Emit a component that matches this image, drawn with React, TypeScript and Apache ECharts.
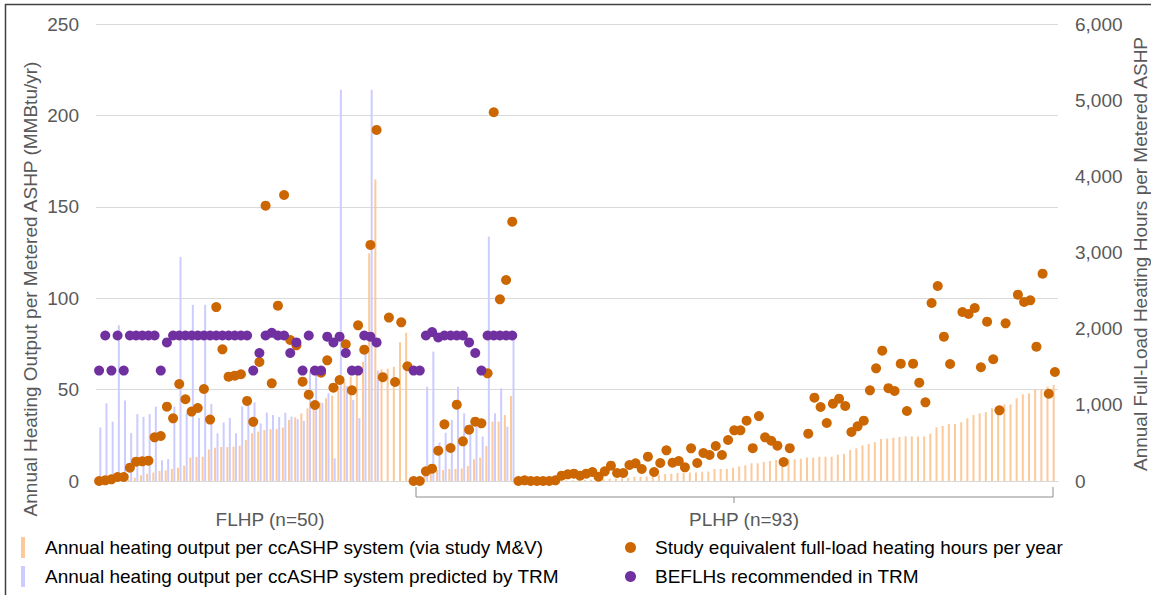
import React, { useEffect, useRef } from "react";
import * as echarts from "echarts";

// ---- Data ----
// FLHP group: 51 systems, PLHP group: 105 systems (x order as in the reference)
const FLHP_COUNT = 51;
const PLHP_COUNT = 105;

// Annual heating output per ccASHP system via study M&V (MMBtu/yr) — left axis
const mvFLHP = [
  0, 0, 0, 0.3, 0.5, 0.9, 1.8, 3.1, 4.0, 4.6, 5.5, 5.8, 6.6, 7.3, 8.4, 12.8, 13.1, 13.3, 17.2, 18.2,
  18.6, 18.6, 18.8, 19.3, 22.4, 26.1, 27.0, 27.9, 28.4, 28.4, 29.2, 33.4, 34.8, 37.0, 39.8, 41.6, 42.9,
  45.2, 46.7, 52.0, 54.3, 57.1, 58.9, 65.3, 124.5, 165.0, 61.1, 61.5, 62.5, 75.9, 81.1,
];
const mvPLHP = [
  0, 0, 4.0, 5.0, 6.0, 6.0, 6.6, 6.6, 6.9, 8.2, 11.9, 12.8, 19.1, 32.5, 32.5, 36.1, 46.5,
  0, 0, 0, 0, 0, 0.1, 0.2, 0.3, 0.3, 0.4, 0.5, 0.6, 0.7, 0.8, 0.9, 1.2, 1.3, 1.5, 1.8, 2.4, 2.4, 2.5,
  3.1, 3.1, 3.8, 4.0, 4.4, 4.4, 4.6, 4.6, 5.0, 5.2, 6.6, 6.6, 6.6, 7.3, 8.0, 8.6, 9.7, 9.7, 10.4, 10.9,
  11.5, 11.9, 11.9, 11.9, 12.2, 12.8, 12.8, 13.3, 13.3, 13.3, 14.4, 14.8, 17.0, 17.9, 19.5, 20.2, 21.2,
  23.0, 23.2, 23.7, 24.1, 24.4, 24.4, 24.4, 24.4, 25.9, 29.4, 30.1, 31.2, 31.2, 32.1, 34.3, 36.1, 37.0,
  37.7, 39.8, 40.7, 41.9, 41.9, 45.2, 47.4, 48.0, 50.1, 50.1, 51.6, 52.5,
];

// Annual heating output per ccASHP system predicted by TRM (MMBtu/yr) — left axis
const trmFLHP = [
  29.3, 42.5, 32.5, 85.2, 44.0, 26.2, 36.6, 35.1, 36.6, 40.7, 11.3, 12.0, 40.7, 122.6, 37.2, 96.4, 34.5,
  96.4, 42.2, 26.1, 32.0, 34.5, 26.1, 40.7, 45.0, 43.0, 31.5, 37.4, 36.1, 35.0, 37.4, 35.2, 33.8, 32.9,
  60.0, 61.0, 42.7, 48.0, 12.4, 214.0, 52.0, 44.3, 34.4, 70.3, 214.0, 60.4, null, null, null, null, null,
];
const trmPLHP = [
  null, null, 51.6, 70.8, 21.0, 26.4, 33.4, 51.6, 37.0, 31.2, 29.7, 24.3, 133.7, 37.0, 50.7, 29.7, 79.0,
];

// Study equivalent full-load heating hours per year — right axis
const flhFLHP = [
  0, 9, 22, 53, 53, 175, 254, 258, 267, 573, 591, 976, 823, 1274, 1073, 911, 959, 1208, 806, 2283,
  1729, 1370, 1383, 1401, 1051, 777, 1562, 3615, 1282, 2302, 3755, 1851, 1781, 1304, 1133, 998, 1422,
  1584, 1225, 1326, 1795, 1190, 2044, 1724, 3100, 4609, 1363, 2145, 1300, 2083, 1506,
];
const flhPLHP = [
  0, 0, 127, 162, 398, 744, 433, 1002, 521, 674, 779, 757, 1414, 4841, 2385, 2639, 3405,
  0, 9, 0, 0, 0, 0, 9, 70, 88, 96, 70, 96, 118, 57, 127, 201, 105, 105, 210, 232, 158, 320, 118, 236,
  403, 241, 263, 179, 429, 236, 368, 341, 460, 341, 538, 665, 665, 792, 431, 852, 573, 528, 464, 249,
  431, null, null, 621, 1094, 972, 762, 1015, 1081, 985, 643, 718, 792, 1190, 1479, 1711, 1219, 1182,
  1541, 919, 1541, 1291, 1033, 2337, 2560, 1895, 1536, null, 2219, 2193, 2271, 1493, 2092, 1598, 928,
  2070, null, 2446, 2350, 2372, 1764, 2722, 1146, 1431,
];

// BEFLHs recommended in TRM — right axis
const befFLHP = [
  1450, 1910, 1450, 1910, 1450, 1910, 1910, 1910, 1910, 1910, 1450, 1820, 1910, 1910, 1910, 1910, 1910,
  1910, 1910, 1910, 1910, 1910, 1910, 1910, 1910, 1450, 1680, 1910, 1945, 1910, 1910, 1680, 1820, 1450,
  1910, 1450, 1450, 1895, 1820, 1895, 1680, 1450, 1450, 1910, 1895, 1820, null, null, null, null, null,
];
const befPLHP = [
  1450, 1450, 1910, 1955, 1885, 1910, 1910, 1910, 1910, 1820, 1680, 1450, 1910, 1910, 1910, 1910, 1910,
];

const leftTicks = { min: 0, max: 250, interval: 50 };
const rightTicks = { min: 0, max: 6000, interval: 1000 };

const groupLabels = ["FLHP (n=50)", "PLHP (n=93)"];
const seriesNames = [
  "Annual heating output per ccASHP system (via study M&V)",
  "Annual heating output per ccASHP system predicted by TRM",
  "Study equivalent full-load heating hours per year",
  "BEFLHs recommended in TRM",
];
const leftTitle = "Annual Heating Output per Metered ASHP (MMBtu/yr)";
const rightTitle = "Annual Full-Load Heating Hours per Metered ASHP";

const FONT = "'Liberation Sans', Arial, sans-serif";
const GREY = "#595959";

function pad(arr: (number | null)[], n: number) {
  const out = arr.slice();
  while (out.length < n) out.push(null);
  return out;
}

export default function App() {
  const ref = useRef<HTMLDivElement>(null);

  useEffect(() => {
    if (!ref.current) return;
    const chart = echarts.init(ref.current, undefined, { renderer: "svg" });

    const categories = [
      ...Array.from({ length: FLHP_COUNT }, (_, i) => `FLHP ${i + 1}`),
      ...Array.from({ length: PLHP_COUNT }, (_, i) => `PLHP ${i + 1}`),
    ];
    const mv = [...mvFLHP, ...mvPLHP];
    const trm = pad([...trmFLHP, ...trmPLHP], categories.length);
    const flh = [...flhFLHP, ...flhPLHP];
    const bef = pad([...befFLHP, ...befPLHP], categories.length);

    chart.setOption({
      animation: false,
      textStyle: { fontFamily: FONT },
      grid: { left: 96, right: 93, top: 24, bottom: 114, containLabel: false },
      legend: [
        {
          data: [seriesNames[0], seriesNames[1]],
          orient: "vertical",
          left: 21,
          top: 537,
          padding: 0,
          itemWidth: 4,
          itemHeight: 21,
          itemGap: 8,
          icon: "rect",
          selectedMode: false,
          textStyle: { fontSize: 19, color: "#000", fontFamily: FONT, padding: [0, 0, 0, 15] },
        },
        {
          data: [seriesNames[2], seriesNames[3]],
          orient: "vertical",
          left: 625,
          top: 538,
          padding: 0,
          itemWidth: 11,
          itemHeight: 11,
          itemGap: 10,
          icon: "circle",
          selectedMode: false,
          textStyle: { fontSize: 19, color: "#000", fontFamily: FONT, padding: [0, 0, 0, 14] },
        },
      ],
      xAxis: {
        type: "category",
        data: categories,
        boundaryGap: true,
        axisLine: { show: true, lineStyle: { color: "#d9d9d9", width: 1 } },
        axisTick: { show: false },
        axisLabel: { show: false },
        splitLine: { show: false },
      },
      yAxis: [
        {
          type: "value",
          ...leftTicks,
          axisLine: { show: false },
          axisTick: { show: false },
          axisLabel: { color: GREY, fontSize: 19, fontFamily: FONT, margin: 17 },
          splitLine: { show: true, lineStyle: { color: "#d9d9d9", width: 1 } },
        },
        {
          type: "value",
          ...rightTicks,
          position: "right",
          axisLine: { show: false },
          axisTick: { show: false },
          axisLabel: {
            color: GREY,
            fontSize: 19,
            fontFamily: FONT,
            margin: 17,
            formatter: (v: number) => v.toLocaleString("en-US"),
          },
          splitLine: { show: false },
        },
      ],
      series: [
        {
          name: seriesNames[0],
          type: "bar",
          yAxisIndex: 0,
          data: mv,
          barWidth: 2,
          barGap: "25%",
          itemStyle: { color: "#fcc99b" },
        },
        {
          name: seriesNames[1],
          type: "bar",
          yAxisIndex: 0,
          data: trm,
          barWidth: 2,
          barGap: "25%",
          itemStyle: { color: "#ccccff" },
        },
        {
          name: seriesNames[2],
          type: "scatter",
          yAxisIndex: 1,
          data: flh,
          symbol: "circle",
          symbolSize: 10,
          itemStyle: { color: "#cc6600", opacity: 1 },
          z: 3,
        },
        {
          name: seriesNames[3],
          type: "scatter",
          yAxisIndex: 1,
          data: bef,
          symbol: "circle",
          symbolSize: 10,
          itemStyle: { color: "#7030a0", opacity: 1 },
          z: 4,
        },
      ],
      graphic: [
        {
          type: "rect",
          silent: true,
          shape: { x: 5.5, y: 4.5, width: 1300, height: 800 },
          style: { fill: "none", stroke: "#404040", lineWidth: 1.5 },
        },
        {
          type: "text",
          x: 30,
          y: 289,
          rotation: Math.PI / 2,
          style: {
            text: leftTitle,
            font: `19px ${FONT}`,
            fill: GREY,
            textAlign: "center",
            textVerticalAlign: "middle",
          },
        },
        {
          type: "text",
          x: 1140,
          y: 254,
          rotation: Math.PI / 2,
          style: {
            text: rightTitle,
            font: `19px ${FONT}`,
            fill: GREY,
            textAlign: "center",
            textVerticalAlign: "middle",
          },
        },
        {
          type: "text",
          x: 270,
          y: 519,
          style: {
            text: groupLabels[0],
            font: `19px ${FONT}`,
            fill: GREY,
            textAlign: "center",
            textVerticalAlign: "middle",
          },
        },
        {
          type: "text",
          x: 744,
          y: 519,
          style: {
            text: groupLabels[1],
            font: `19px ${FONT}`,
            fill: GREY,
            textAlign: "center",
            textVerticalAlign: "middle",
          },
        },
        {
          type: "polyline",
          silent: true,
          shape: {
            points: [
              [416, 487],
              [416, 497],
              [1053, 497],
              [1053, 487],
            ],
          },
          style: { stroke: "#8c8c8c", lineWidth: 1, fill: "none" },
        },
        {
          type: "line",
          silent: true,
          shape: { x1: 734, y1: 497, x2: 734, y2: 503 },
          style: { stroke: "#8c8c8c", lineWidth: 1 },
        },
      ],
    });

    return () => chart.dispose();
  }, []);

  return (
    <div
      ref={ref}
      style={{ position: "fixed", left: 0, top: 0, width: 1151, height: 595, background: "#fff" }}
    />
  );
}
